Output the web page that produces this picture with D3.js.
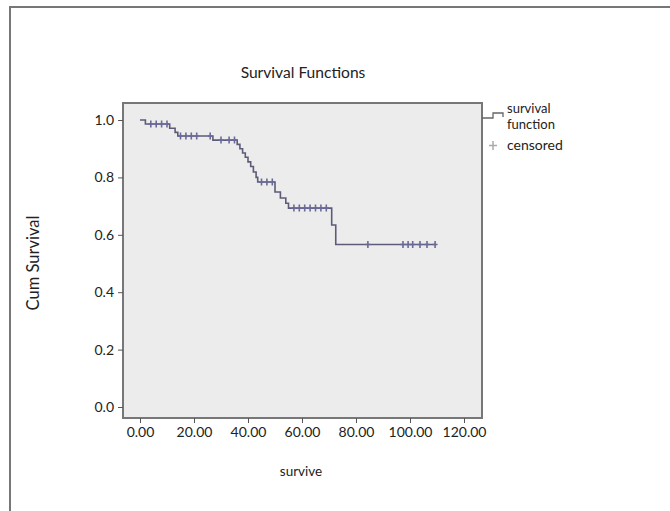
<!DOCTYPE html>
<html>
<head>
<meta charset="utf-8">
<script src="https://cdn.jsdelivr.net/npm/d3@7/dist/d3.min.js"></script>
<style>
  html, body { margin: 0; padding: 0; background: #fff; }
  svg { display: block; }
  text { font-family: Lato, "Open Sans", sans-serif; fill: #222; }
</style>
</head>
<body>
<svg id="chart" width="670" height="511"></svg>
<script>
// ---- data ----
const title = "Survival Functions";
const xLabel = "survive";
const yLabel = "Cum Survival";
const xTicks = [0, 20, 40, 60, 80, 100, 120];
const yTicks = [0.0, 0.2, 0.4, 0.6, 0.8, 1.0];
// event times and survival after each event
const eventTimes    = [2,     11,    13,    14,    27,    36,    37,    38,    39,    40,    41,    42,    43,    43.6,  50,    52,    54,    55,    71,    72.5];
const eventSurvival = [0.986, 0.971, 0.957, 0.944, 0.930, 0.915, 0.900, 0.885, 0.870, 0.854, 0.838, 0.819, 0.800, 0.784, 0.749, 0.728, 0.710, 0.693, 0.634, 0.566];
// censored observations
const censorTimes    = [4,     6,     8,     10,    15,    17,    19,    21,    26,    30,    33,    35,    45,    47,    49,    57,    59,    61,    63,    65,    67,    69,    84.4,  97.4,  99.3,  101,   103.7, 106.3, 109.3];
const censorSurvival = [0.986, 0.986, 0.986, 0.986, 0.944, 0.944, 0.944, 0.944, 0.944, 0.930, 0.930, 0.930, 0.784, 0.784, 0.784, 0.693, 0.693, 0.693, 0.693, 0.693, 0.693, 0.693, 0.566, 0.566, 0.566, 0.566, 0.566, 0.566, 0.566];
const legendLabels = [["survival", "function"], ["censored"]];

// ---- layout ----
const svg = d3.select("#chart");
const plot = { left: 123, right: 482, top: 103, bottom: 418 };

const x = d3.scaleLinear().domain([0, 120]).range([140, 464]);
const y = d3.scaleLinear().domain([0, 1]).range([407, 120]);

// outer frame (left and top edges visible)
svg.append("path")
  .attr("d", "M10,511 V7 H670")
  .attr("fill", "none").attr("stroke", "#777").attr("stroke-width", 2);

// plot background
svg.append("rect")
  .attr("x", plot.left).attr("y", plot.top)
  .attr("width", plot.right - plot.left).attr("height", plot.bottom - plot.top)
  .attr("fill", "#ececec").attr("stroke", "#777").attr("stroke-width", 2);

// axes
const xAxis = d3.axisBottom(x).tickValues(xTicks).tickFormat(d3.format(".2f")).tickSize(5).tickPadding(4);
const yAxis = d3.axisLeft(y).tickValues(yTicks).tickFormat(d3.format(".1f")).tickSize(5).tickPadding(4);

const gx = svg.append("g").attr("transform", `translate(0,${plot.bottom})`).call(xAxis);
const gy = svg.append("g").attr("transform", `translate(${plot.left},0)`).call(yAxis);
[gx, gy].forEach(g => {
  g.select(".domain").remove();
  g.selectAll(".tick line").attr("stroke", "#555");
  g.selectAll(".tick text").attr("fill", "#222").style("font-size", "14px")
    .style("font-family", "Lato, 'Open Sans', sans-serif");
});

// step curve
const pts = [[0, 1]];
eventTimes.forEach((t, i) => pts.push([t, eventSurvival[i]]));
pts.push([d3.max(censorTimes), eventSurvival[eventSurvival.length - 1]]);
const line = d3.line().x(d => x(d[0])).y(d => y(d[1])).curve(d3.curveStepAfter);
svg.append("path").datum(pts)
  .attr("d", line).attr("fill", "none")
  .attr("stroke", "#5c5c78").attr("stroke-width", 1.6);

// censored marks
const cs = censorTimes.map((t, i) => [t, censorSurvival[i]]);
const cg = svg.append("g");
cg.selectAll("path").data(cs).join("path")
  .attr("d", d => `M${x(d[0])},${y(d[1]) - 3.5}V${y(d[1]) + 3.5}M${x(d[0]) - 2.5},${y(d[1])}H${x(d[0]) + 2.5}`)
  .attr("stroke", "#6a6a98").attr("stroke-width", 1.6).attr("fill", "none");

// title and axis labels
svg.append("text").attr("x", 303).attr("y", 78).attr("text-anchor", "middle")
  .style("font-size", "15.6px").text(title);
svg.append("text").attr("x", 301).attr("y", 476).attr("text-anchor", "middle")
  .style("font-size", "13.5px").text(xLabel);
svg.append("text").attr("transform", "translate(39,263) rotate(-90)").attr("text-anchor", "middle")
  .style("font-size", "16.5px").text(yLabel);

// legend
svg.append("path").attr("d", "M482,118 H493 V113 H503 V117")
  .attr("fill", "none").attr("stroke", "#666").attr("stroke-width", 1.3);
svg.append("text").attr("x", 507).attr("y", 112.5).style("font-size", "13px").text(legendLabels[0][0]);
svg.append("text").attr("x", 507).attr("y", 129).style("font-size", "13px").text(legendLabels[0][1]);
svg.append("path").attr("d", "M493,141V150M489,145.5H497")
  .attr("stroke", "#aaa").attr("stroke-width", 1.5);
svg.append("text").attr("x", 507).attr("y", 150).style("font-size", "14px").text(legendLabels[1][0]);
</script>
</body>
</html>
